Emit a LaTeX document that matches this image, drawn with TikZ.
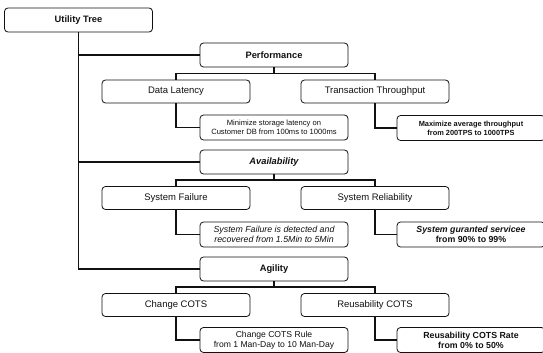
\documentclass[tikz,border=0pt]{standalone}
\usepackage{fontspec}
\setmainfont{Liberation Sans}
\usepackage{xcolor}
\usepackage{tikz}
\usetikzlibrary{calc}
\definecolor{ink}{HTML}{111111}
\tikzset{
  box/.style={draw=ink, rounded corners=3.5pt, fill=white, line width=.8pt,
    minimum width=148pt, minimum height=24pt, inner sep=1pt, align=center, text=ink},
  head/.style={box, font=\bfseries\fontsize{9.3}{11}\selectfont},
  sub/.style={box, minimum height=23pt, font=\fontsize{9.5}{11}\selectfont},
  leaf/.style={box, minimum height=25pt, font=\fontsize{8.6}{9.8}\selectfont},
  wire/.style={draw=ink, line width=1.6pt}
}
\begin{document}
\begin{tikzpicture}[x=1pt,y=-1pt]
  \useasboundingbox (0,0) rectangle (543,353);

  % root
  \node[head] (ut) at (78.5,20) {Utility Tree};

  % quality attributes
  \node[head] (perf)  at (274,55)  {Performance};
  \node[head] (avail) at (274,162) {\itshape Availability};
  \node[head] (agil)  at (274,269) {Agility};

  % refinements
  \node[sub] (dl) at (176,91.5) {Data Latency};
  \node[sub] (tt) at (375,91.5) {Transaction Throughput};
  \node[sub] (sf) at (176,198)  {System Failure};
  \node[sub] (sr) at (375,198)  {System Reliability};
  \node[sub] (cc) at (176,305)  {Change COTS};
  \node[sub] (rc) at (375,305)  {Reusability COTS};

  % scenarios
  \node[leaf,font=\fontsize{7.6}{9}\selectfont] (dls) at (274,127.5)
    {Minimize storage latency on\\Customer DB from 100ms to 1000ms};
  \node[leaf,font=\bfseries\fontsize{7.4}{9}\selectfont] (tts) at (471,128)
    {Maximize average throughput\\from 200TPS to 1000TPS};
  \node[leaf,font=\itshape\fontsize{8.8}{10}\selectfont] (sfs) at (274,234.5)
    {System Failure is detected and\\recovered from 1.5Min to 5Min};
  \node[leaf,font=\bfseries\fontsize{8.8}{10}\selectfont] (srs) at (471,234.5)
    {\itshape System guranted servicee\\from 90\% to 99\%};
  \node[leaf] (ccs) at (274,340)
    {Change COTS Rule\\from 1 Man-Day to 10 Man-Day};
  \node[leaf,font=\bfseries\fontsize{8.8}{10}\selectfont] (rcs) at (471,340)
    {Reusability COTS Rate\\from 0\% to 50\%};

  % trunk
  \draw[wire] (ut.south) |- (agil.west);
  \draw[wire] (ut.south) |- (perf.west);
  \draw[wire] (ut.south) |- (avail.west);

  % branches
  \foreach \p/\l/\r/\ls/\rs in {perf/dl/tt/dls/tts, avail/sf/sr/sfs/srs, agil/cc/rc/ccs/rcs}{
    \coordinate (\p j) at ($(\p.south)!.5!(\p.south |- \l.north)$);
    \draw[wire] (\p.south) -- (\p j);
    \draw[wire] (\l.north) |- (\p j) -| (\r.north);
    \draw[wire] (\l.south) |- (\ls.west);
    \draw[wire] (\r.south) |- (\rs.west);
  }
\end{tikzpicture}
\end{document}
